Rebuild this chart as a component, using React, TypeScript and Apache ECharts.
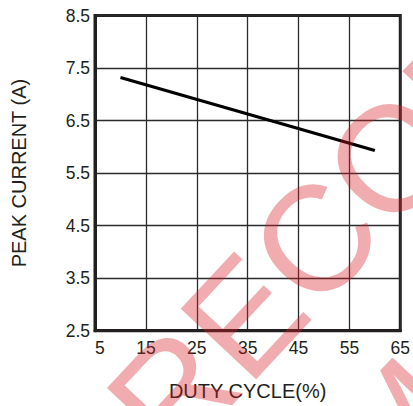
import React, { useEffect, useRef } from "react";
import * as echarts from "echarts";

// Data
const dutyCycle = [10, 60];
const peakCurrent = [7.32, 5.93];
const xTickValues = [5, 15, 25, 35, 45, 55, 65];
const yTickValues = [2.5, 3.5, 4.5, 5.5, 6.5, 7.5, 8.5];
const xTitle = "DUTY CYCLE(%)";
const yTitle = "PEAK CURRENT (A)";
const watermark1 = "RECOMMENDED";
const watermark2 = "M";

const INK = "#231f20";
const FONT = '"Liberation Sans", Arial, Helvetica, sans-serif';

export default function App() {
  const ref = useRef<HTMLDivElement>(null);

  useEffect(() => {
    document.body.style.margin = "0";
    if (!ref.current) return;
    const chart = echarts.init(ref.current, null, { renderer: "svg" });
    const ang = (47 * Math.PI) / 180;
    const em = 150;
    const cx = 315, cy = 240;
    const ax = Math.cos(ang), ay = -Math.sin(ang); // along text
    const px = Math.sin(ang), py = Math.cos(ang); // letter "down"
    const start1X = cx - 1.75 * em * ax;
    const start1Y = cy - 1.75 * em * ay;
    // second line: right edge of an "M"
    const along2 = -32 + 0.074 * em;
    const down2 = 134 + 0.36 * em;
    const p2X = cx + along2 * ax + down2 * px;
    const p2Y = cy + along2 * ay + down2 * py;
    const wmFill = "rgba(215, 30, 35, 0.37)";

    chart.setOption({
      animation: false,
      backgroundColor: "#ffffff",
      textStyle: { fontFamily: FONT, color: INK },
      grid: {
        left: 95,
        right: 4,
        top: 15.5,
        bottom: 75.3,
        show: true,
        borderColor: INK,
        borderWidth: 3,
        backgroundColor: "transparent",
      },
      xAxis: {
        type: "value",
        min: xTickValues[0],
        max: xTickValues[xTickValues.length - 1],
        interval: 10,
        name: xTitle,
        nameLocation: "middle",
        nameGap: 50,
        nameTextStyle: { fontSize: 20, color: INK, fontFamily: FONT },
        axisLine: { show: true, lineStyle: { color: INK, width: 3 } },
        axisTick: { show: false },
        axisLabel: {
          margin: 8,
          fontSize: 17.5,
          color: INK,
          fontFamily: FONT,
          alignMinLabel: "left",
        },
        splitLine: { show: true, lineStyle: { color: "#2b2b2b", width: 1.3 } },
      },
      yAxis: {
        type: "value",
        min: yTickValues[0],
        max: yTickValues[yTickValues.length - 1],
        interval: 1,
        name: yTitle,
        nameLocation: "middle",
        nameGap: 66,
        nameTextStyle: { fontSize: 20, color: INK, fontFamily: FONT },
        axisLine: { show: true, lineStyle: { color: INK, width: 3 } },
        axisTick: { show: false },
        axisLabel: {
          margin: 5,
          fontSize: 17.5,
          color: INK,
          fontFamily: FONT,
          formatter: (v: number) => v.toFixed(1),
        },
        splitLine: { show: true, lineStyle: { color: "#2b2b2b", width: 1.3 } },
      },
      series: [
        {
          type: "line",
          data: dutyCycle.map((x, i) => [x, peakCurrent[i]]),
          showSymbol: false,
          lineStyle: { color: "#000000", width: 3.2 },
          z: 5,
        },
      ],
      graphic: [
        {
          type: "text",
          x: start1X,
          y: start1Y,
          rotation: ang,
          z: 100,
          silent: true,
          style: {
            text: watermark1,
            fontSize: em,
            fontFamily: FONT,
            fill: wmFill,
            align: "left",
            verticalAlign: "middle",
          },
        },
        {
          type: "text",
          x: p2X,
          y: p2Y,
          rotation: ang,
          z: 100,
          silent: true,
          style: {
            text: watermark2,
            fontSize: em,
            fontFamily: FONT,
            fill: wmFill,
            align: "right",
            verticalAlign: "middle",
          },
        },
      ],
    });
    return () => chart.dispose();
  }, []);

  return <div ref={ref} style={{ width: 413, height: 406 }} />;
}
